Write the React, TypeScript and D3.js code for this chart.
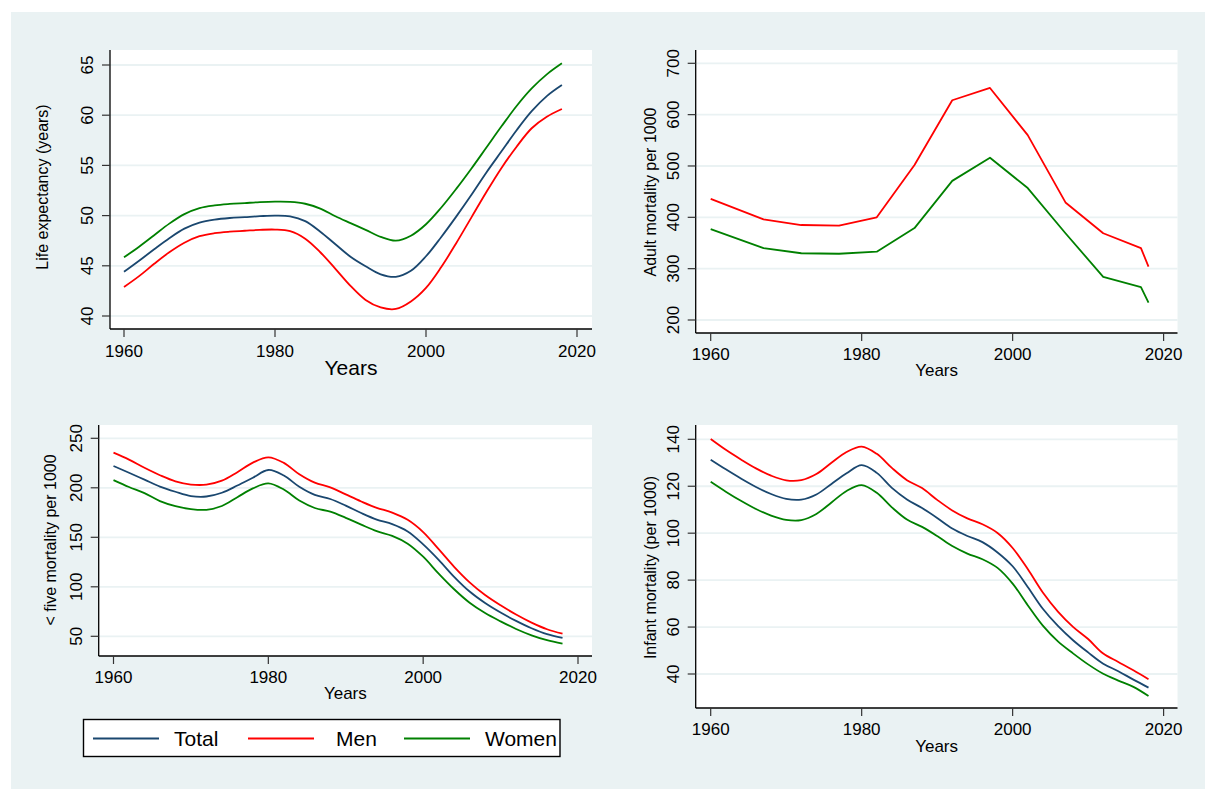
import React from 'react';
import * as d3 from 'd3';

// ---------- DATA ----------
const years = [1960,1962,1964,1966,1968,1970,1972,1974,1976,1978,1980,1982,1984,1986,1988,1990,1992,1994,1996,1998,2000,2002,2004,2006,2008,2010,2012,2014,2016,2018];

const lifeTotal = [44.4,45.5,46.65,47.75,48.7,49.3,49.6,49.76,49.85,49.94,50.0,49.93,49.45,48.4,47.15,45.9,44.95,44.15,43.9,44.5,45.95,47.85,49.9,52.05,54.3,56.4,58.5,60.4,61.9,63.0];
const lifeMen = [42.89,43.97,45.2,46.35,47.3,47.95,48.25,48.4,48.49,48.58,48.61,48.45,47.7,46.35,44.7,43.0,41.6,40.85,40.7,41.45,42.8,44.85,47.25,49.8,52.35,54.75,56.86,58.7,59.85,60.62];
const lifeWomen = [45.85,46.9,48.05,49.2,50.15,50.75,51.02,51.16,51.25,51.34,51.39,51.37,51.18,50.7,49.93,49.25,48.58,47.88,47.5,48.0,49.14,50.78,52.66,54.67,56.78,58.89,60.92,62.67,64.07,65.17];

const adultYears = [1960,1967,1972,1977,1982,1987,1992,1997,2002,2007,2012,2017,2018];
const adultMen = [436,396,385,384,400,502,628,652,560,429,369,340,304];
const adultWomen = [377,340,330,329,333,379,471,516,457,369,284,264,234];

const u5Total = [222,215.2,208.2,201.2,196,191.7,191.2,195,202.3,210.2,218,212.4,201,192.8,188.7,182,174.5,167.9,163.3,155.9,142.9,127.3,110.1,95.2,83.6,74,65.6,58.1,52.1,48.3];
const u5Men = [235.5,228.5,220.2,212.7,206.5,203.3,203.2,207.2,215.8,225.4,230.8,225.2,213.7,205.2,200.5,193.3,186.2,179.8,175.0,167.7,155.3,138,120.2,104.5,91.7,81.3,72.0,63.8,57.1,52.6];
const u5Women = [207.8,200.8,194.6,186.6,181.5,178.5,177.8,181.6,190.5,199.4,204.5,198.2,187.1,179.6,175.9,169.7,162.8,156.2,151.5,143.6,130.4,113.3,97.5,83.9,73.5,65.1,57.4,51.0,46.05,42.6];

const infTotal = [131.3,127.2,123.3,119.7,116.7,114.6,114.3,116.5,121,125.5,129,125.7,119.3,114.4,110.7,106.5,102,98.8,96.2,91.8,85.9,77.1,67.8,60.5,54.4,49.2,44.4,41.2,37.6,34.2];
const infMen = [140.1,135.5,131.4,127.6,124.5,122.5,122.6,125.2,130,134.6,136.9,133.8,127.8,122.6,119.2,114.2,109.7,106.3,103.8,100.1,93.7,84.7,74.7,66.6,60.1,54.9,48.7,45.15,41.6,37.8];
const infWomen = [121.9,117.7,113.8,110.3,107.5,105.7,105.6,108.2,113.1,118,120.5,117.2,111,105.8,102.7,98.8,94.5,91.3,88.9,85.2,78.5,69.3,60.6,53.9,48.8,44.1,40.1,37.2,34.5,30.6];

const xTicks = [1960, 1980, 2000, 2020];
const lifeTicks = [40, 45, 50, 55, 60, 65];
const adultTicks = [200, 300, 400, 500, 600, 700];
const u5Ticks = [50, 100, 150, 200, 250];
const infTicks = [40, 60, 80, 100, 120, 140];

const seriesNames = ['Total', 'Men', 'Women'];
const seriesColors = ['#1a476f', '#ff0000', '#008000'];

// ---------- LAYOUT ----------
const FONT = '"Liberation Sans", Arial, Helvetica, sans-serif';
const BG = '#eaf2f3';

type Series = { name: string; color: string; xs: number[]; ys: number[] };
type PanelCfg = {
  left: number; right: number; top: number; bottom: number;
  xr: [number, number];
  yd: [number, number]; yr: [number, number];
  yTicks: number[];
  yTitle: string; yTitleX: number; yTitleY: number;
  yLabelX: number;
  xLabelY: number;
  xTitleY: number; xTitleSize: number;
  series: Series[];
  smooth: boolean;
};

const panels: PanelCfg[] = [
  {
    left: 110, right: 592, top: 50, bottom: 329,
    xr: [124, 577], yd: [40, 65], yr: [316, 65], yTicks: lifeTicks,
    yTitle: 'Life expectancy (years)', yTitleX: 48.3, yTitleY: 187,
    yLabelX: 92.7, xLabelY: 357, xTitleY: 375, xTitleSize: 21,
    smooth: true,
    series: [
      { name: seriesNames[0], color: seriesColors[0], xs: years, ys: lifeTotal },
      { name: seriesNames[1], color: seriesColors[1], xs: years, ys: lifeMen },
      { name: seriesNames[2], color: seriesColors[2], xs: years, ys: lifeWomen },
    ],
  },
  {
    left: 695.7, right: 1177.5, top: 50, bottom: 333,
    xr: [710.7, 1163.6], yd: [200, 700], yr: [320, 63.3], yTicks: adultTicks,
    yTitle: 'Adult mortality per 1000', yTitleX: 656.4, yTitleY: 192,
    yLabelX: 679, xLabelY: 360, xTitleY: 376, xTitleSize: 17,
    smooth: false,
    series: [
      { name: seriesNames[1], color: seriesColors[1], xs: adultYears, ys: adultMen },
      { name: seriesNames[2], color: seriesColors[2], xs: adultYears, ys: adultWomen },
    ],
  },
  {
    left: 98.7, right: 592, top: 425, bottom: 656,
    xr: [113.5, 578], yd: [50, 250], yr: [636.3, 438.3], yTicks: u5Ticks,
    yTitle: '< five mortality per 1000', yTitleX: 55.9, yTitleY: 540,
    yLabelX: 82.3, xLabelY: 683, xTitleY: 699, xTitleSize: 17,
    smooth: true,
    series: [
      { name: seriesNames[0], color: seriesColors[0], xs: years, ys: u5Total },
      { name: seriesNames[1], color: seriesColors[1], xs: years, ys: u5Men },
      { name: seriesNames[2], color: seriesColors[2], xs: years, ys: u5Women },
    ],
  },
  {
    left: 695.7, right: 1177.5, top: 425, bottom: 708,
    xr: [710.7, 1163.6], yd: [40, 140], yr: [674, 439.3], yTicks: infTicks,
    yTitle: 'Infant mortality (per 1000)', yTitleX: 656.4, yTitleY: 567.5,
    yLabelX: 679, xLabelY: 735, xTitleY: 752, xTitleSize: 17,
    smooth: true,
    series: [
      { name: seriesNames[0], color: seriesColors[0], xs: years, ys: infTotal },
      { name: seriesNames[1], color: seriesColors[1], xs: years, ys: infMen },
      { name: seriesNames[2], color: seriesColors[2], xs: years, ys: infWomen },
    ],
  },
];

function Panel({ cfg }: { cfg: PanelCfg }) {
  const x = d3.scaleLinear().domain([1960, 2020]).range(cfg.xr);
  const y = d3.scaleLinear().domain(cfg.yd).range(cfg.yr);
  const line = d3.line<[number, number]>()
    .x(d => x(d[0]))
    .y(d => y(d[1]))
    .curve(cfg.smooth ? d3.curveCatmullRom.alpha(0.5) : d3.curveLinear);

  return (
    <g>
      <rect x={cfg.left} y={cfg.top} width={cfg.right - cfg.left} height={cfg.bottom - cfg.top} fill="#ffffff" />
      {cfg.yTicks.map(t => (
        <line key={'g' + t} x1={cfg.left} x2={cfg.right} y1={y(t)} y2={y(t)} stroke={BG} strokeWidth={1.8} />
      ))}
      {cfg.series.map(s => (
        <path key={s.name} d={line(s.xs.map((xv, i) => [xv, s.ys[i]] as [number, number])) || ''}
          fill="none" stroke={s.color} strokeWidth={1.8} strokeLinejoin="round" />
      ))}
      <line x1={cfg.left} x2={cfg.left} y1={cfg.top} y2={cfg.bottom} stroke="#000" strokeWidth={1.3} />
      <line x1={cfg.left} x2={cfg.right} y1={cfg.bottom} y2={cfg.bottom} stroke="#000" strokeWidth={1.3} />
      {cfg.yTicks.map(t => (
        <g key={'y' + t}>
          <line x1={cfg.left - 8} x2={cfg.left} y1={y(t)} y2={y(t)} stroke="#333" strokeWidth={1.2} />
          <text transform={`translate(${cfg.yLabelX},${y(t)}) rotate(-90)`} textAnchor="middle"
            fontSize={17} fontFamily={FONT} fill="#000">{t}</text>
        </g>
      ))}
      {xTicks.map(t => (
        <g key={'x' + t}>
          <line x1={x(t)} x2={x(t)} y1={cfg.bottom} y2={cfg.bottom + 8} stroke="#333" strokeWidth={1.2} />
          <text x={x(t)} y={cfg.xLabelY} textAnchor="middle" fontSize={17} fontFamily={FONT} fill="#000">{t}</text>
        </g>
      ))}
      <text transform={`translate(${cfg.yTitleX},${cfg.yTitleY}) rotate(-90)`} textAnchor="middle"
        fontSize={16} fontFamily={FONT} fill="#000">{cfg.yTitle}</text>
      <text x={(cfg.left + cfg.right) / 2} y={cfg.xTitleY} textAnchor="middle"
        fontSize={cfg.xTitleSize} fontFamily={FONT} fill="#000">Years</text>
    </g>
  );
}

const legendItems = [
  { lx: 93, tx: 174 },
  { lx: 248, tx: 336 },
  { lx: 404, tx: 485 },
];

export default function App() {
  return (
    <svg width={1205} height={789} style={{ position: 'absolute', left: 0, top: 0 }}>
      <rect x={0} y={0} width={1205} height={789} fill="#ffffff" />
      <rect x={11} y={12} width={1194} height={777} fill={BG} />
      {panels.map((p, i) => <Panel key={i} cfg={p} />)}
      <g>
        <rect x={83.5} y={719.5} width={476.5} height={37} fill="#ffffff" stroke="#000" strokeWidth={1.4} />
        {seriesNames.map((n, i) => (
          <g key={n}>
            <line x1={legendItems[i].lx} x2={legendItems[i].lx + 66} y1={738.5} y2={738.5}
              stroke={seriesColors[i]} strokeWidth={1.8} />
            <text x={legendItems[i].tx} y={746} fontSize={21} fontFamily={FONT} fill="#000">{n}</text>
          </g>
        ))}
      </g>
    </svg>
  );
}
